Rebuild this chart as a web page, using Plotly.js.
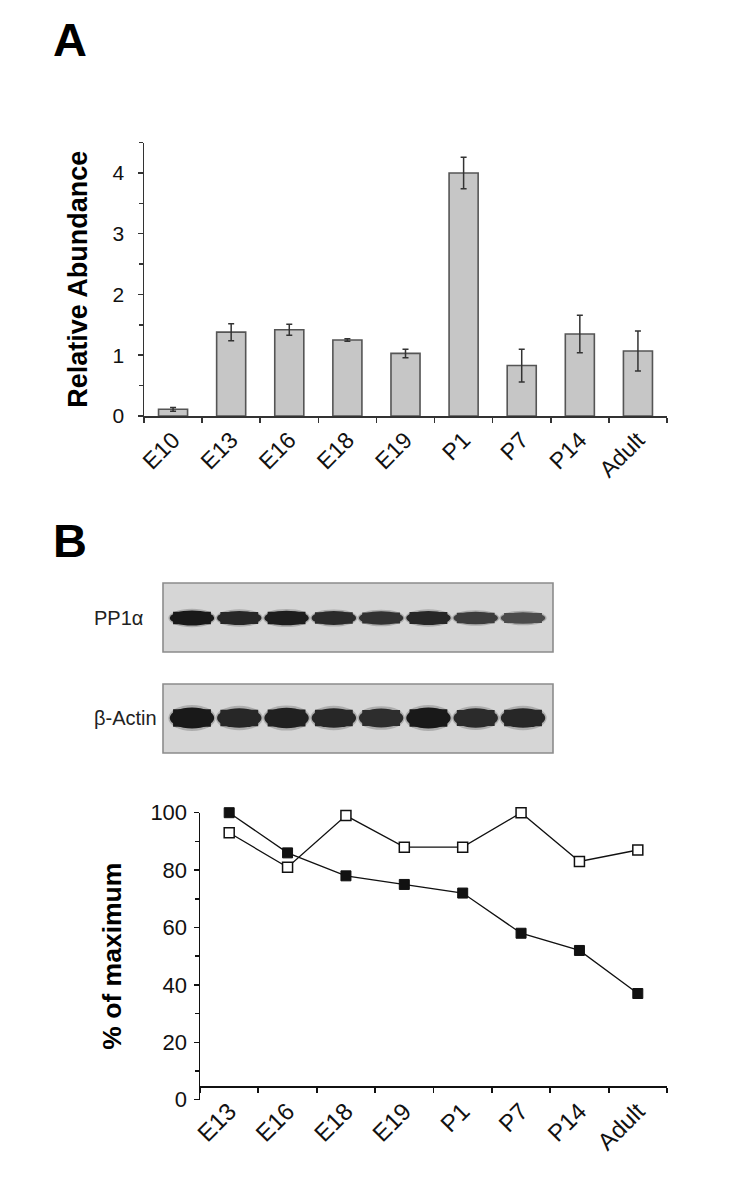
<!DOCTYPE html>
<html><head><meta charset="utf-8">
<script src="https://cdn.plot.ly/plotly-3.0.1.min.js"></script>
<style>html,body{margin:0;padding:0;background:#fff}#chart{width:740px;height:1180px}</style>
</head><body><div id="chart"></div>
<script>
// ---- Panel A data ----
const stagesA = ['E10','E13','E16','E18','E19','P1','P7','P14','Adult'];
const abundance = [0.11, 1.38, 1.42, 1.25, 1.03, 4.00, 0.83, 1.35, 1.07];
const abundanceErr = [0.03, 0.14, 0.09, 0.02, 0.07, 0.26, 0.27, 0.31, 0.33];

// ---- Panel B line data ----
const stagesB = ['E13','E16','E18','E19','P1','P7','P14','Adult'];
const filledPct = [100, 86, 78, 75, 72, 58, 52, 37];
const openPct = [93, 81, 99, 88, 88, 100, 83, 87];

// ---- Panel B blot (band intensity, relative) ----
const blotLabels = ['PP1α', 'β-Actin'];
const pp1Band = [1.0, 0.85, 0.95, 0.8, 0.72, 0.85, 0.6, 0.45];
const actinBand = [1.0, 0.85, 0.92, 0.85, 0.78, 1.0, 0.8, 0.85];

const W = 740, H = 1180;
const px = x => x / W;
const py = y => 1 - y / H;
const FONT = 'Liberation Sans, Arial, Helvetica, sans-serif';
const AX = '#333';

const traces = [
  {
    type: 'bar', x: stagesA, y: abundance, xaxis: 'x', yaxis: 'y',
    width: 0.5,
    marker: {color: '#c6c6c6', line: {color: '#555', width: 1.6}},
    error_y: {type: 'data', array: abundanceErr, visible: true, color: '#333', thickness: 1.5, width: 3},
    hoverinfo: 'x+y', showlegend: false
  },
  {
    type: 'scatter', mode: 'markers', x: [], y: [], xaxis: 'x2', yaxis: 'y2',
    showlegend: false, hoverinfo: 'skip'
  },
  {
    type: 'scatter', mode: 'lines+markers', x: stagesB, y: openPct, xaxis: 'x3', yaxis: 'y3',
    line: {color: '#111', width: 1.3},
    marker: {symbol: 'square', size: 10, color: '#fff', line: {color: '#111', width: 1.5}},
    showlegend: false, cliponaxis: false
  },
  {
    type: 'scatter', mode: 'lines+markers', x: stagesB, y: filledPct, xaxis: 'x3', yaxis: 'y3',
    line: {color: '#111', width: 1.3},
    marker: {symbol: 'square', size: 10, color: '#111', line: {color: '#111', width: 1}},
    showlegend: false, cliponaxis: false
  }
];

// Blot shapes
const shapes = [];
const boxes = [{top: 583, bot: 652, cy: 618, h: 15, data: pp1Band},
               {top: 684, bot: 753, cy: 718, h: 21, data: actinBand}];
boxes.forEach(b => {
  shapes.push({type: 'rect', xref: 'paper', yref: 'paper', x0: px(163), x1: px(553), y0: py(b.bot), y1: py(b.top),
    fillcolor: '#d6d6d6', line: {color: '#8c8c8c', width: 1.6}, layer: 'below'});
  b.data.forEach((v, i) => {
    const h = b.h * (0.6 + 0.4 * v);
    const g = Math.round(25 + (1 - v) * 90);
    const col = `rgb(${g},${g},${g})`;
    shapes.push({type: 'circle', xref: 'x2', yref: 'paper', x0: i - 0.5, x1: i + 0.5,
      y0: py(b.cy + h * 0.62), y1: py(b.cy - h * 0.62), fillcolor: 'rgba(80,80,80,0.3)', line: {width: 0}});
    shapes.push({type: 'circle', xref: 'x2', yref: 'paper', x0: i - 0.47, x1: i + 0.47,
      y0: py(b.cy + h / 2), y1: py(b.cy - h / 2), fillcolor: col, line: {width: 0}});
    shapes.push({type: 'rect', xref: 'x2', yref: 'paper', x0: i - 0.4, x1: i + 0.4,
      y0: py(b.cy + h * 0.42), y1: py(b.cy - h * 0.42), fillcolor: col, line: {width: 0}});
  });
});

const annotations = [
  {text: 'A', xref: 'paper', yref: 'paper', x: px(51), y: py(11), xanchor: 'left', yanchor: 'top', showarrow: false,
   font: {family: FONT, size: 47, weight: 'bold', color: '#000'}},
  {text: 'B', xref: 'paper', yref: 'paper', x: px(51), y: py(512), xanchor: 'left', yanchor: 'top', showarrow: false,
   font: {family: FONT, size: 47, weight: 'bold', color: '#000'}},
  {text: blotLabels[0], xref: 'paper', yref: 'paper', x: px(92), y: py(618), xanchor: 'left', yanchor: 'middle', showarrow: false,
   font: {family: FONT, size: 20, color: '#222'}},
  {text: blotLabels[1], xref: 'paper', yref: 'paper', x: px(92), y: py(718), xanchor: 'left', yanchor: 'middle', showarrow: false,
   font: {family: FONT, size: 20, color: '#222'}}
];

const layout = {
  width: W, height: H,
  margin: {l: 0, r: 0, t: 0, b: 0},
  paper_bgcolor: '#fff', plot_bgcolor: 'rgba(0,0,0,0)',
  font: {family: FONT, color: '#111'},
  showlegend: false,
  xaxis: {
    domain: [px(144), px(667)], anchor: 'y', type: 'category', range: [-0.5, 8.5],
    tickson: 'boundaries', ticks: 'outside', ticklen: 5, tickwidth: 1.5, tickcolor: AX,
    showline: true, linecolor: AX, linewidth: 1.5, showgrid: false, zeroline: false,
    tickangle: -45, tickfont: {size: 23, color: '#111'}, fixedrange: true
  },
  yaxis: {
    domain: [py(416), py(142.6)], anchor: 'x', range: [0, 4.5], dtick: 1,
    ticks: 'outside', ticklen: 5, tickwidth: 1.5, tickcolor: AX,
    minor: {dtick: 0.5, ticks: 'outside', ticklen: 4, tickwidth: 1.5, tickcolor: AX, showgrid: false},
    showline: true, linecolor: AX, linewidth: 1.5, showgrid: false, zeroline: false,
    tickfont: {size: 21, color: '#111'}, ticklabelstandoff: 9,
    title: {text: 'Relative Abundance', font: {size: 27, weight: 'bold', color: '#000'}, standoff: 17},
    fixedrange: true
  },
  xaxis2: {domain: [px(163), px(553)], anchor: 'y2', range: [-0.613, 7.634], visible: false, fixedrange: true},
  yaxis2: {domain: [py(753), py(583)], anchor: 'x2', range: [0, 1], visible: false, fixedrange: true},
  xaxis3: {
    domain: [px(200), px(667)], anchor: 'free', position: py(1086.7), type: 'category', range: [-0.5, 7.5],
    tickson: 'boundaries', ticks: 'outside', ticklen: 5, tickwidth: 1.8, tickcolor: '#111',
    showline: true, linecolor: '#111', linewidth: 2, showgrid: false, zeroline: false,
    tickangle: -45, tickfont: {size: 24, color: '#111'}, fixedrange: true
  },
  yaxis3: {
    domain: [py(1099.7), py(812.7)], anchor: 'x3', range: [0, 100], dtick: 20,
    ticks: 'outside', ticklen: 5, tickwidth: 1.5, tickcolor: '#111',
    minor: {dtick: 10, ticks: 'outside', ticklen: 4, tickwidth: 1.5, tickcolor: '#111', showgrid: false},
    showline: true, linecolor: '#111', linewidth: 1.5, showgrid: false, zeroline: false,
    tickfont: {size: 22, color: '#111'}, ticklabelstandoff: 2,
    title: {text: '% of maximum', font: {size: 26.5, weight: 'bold', color: '#000'}, standoff: 21},
    fixedrange: true
  },
  shapes: shapes,
  annotations: annotations
};

Plotly.newPlot('chart', traces, layout, {displayModeBar: false, staticPlot: true});
</script>
</body></html>
